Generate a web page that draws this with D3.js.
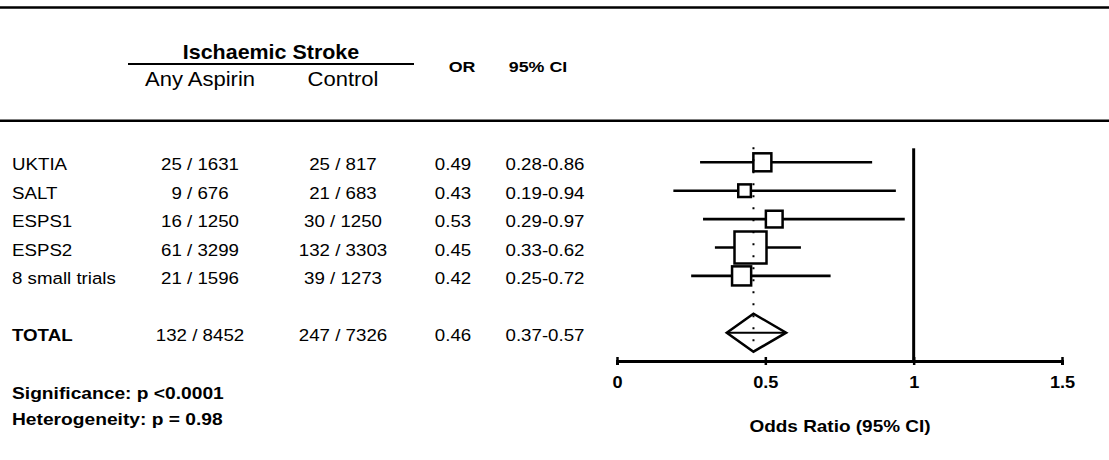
<!DOCTYPE html>
<html>
<head>
<meta charset="utf-8">
<script src="https://cdn.jsdelivr.net/npm/d3@7/dist/d3.min.js"></script>
<style>
  html, body { margin: 0; padding: 0; background: #fff; }
  svg { display: block; }
  text { font-family: "Liberation Sans", Arial, sans-serif; fill: #000; }
</style>
</head>
<body>
<svg id="chart" width="1109" height="460"></svg>
<script>
// Trial data: ischaemic stroke events / patients, odds ratios and 95% CIs
const studies = ["UKTIA", "SALT", "ESPS1", "ESPS2", "8 small trials"];
const aspirinEvents = [25, 9, 16, 61, 21];
const aspirinTotals = [1631, 676, 1250, 3299, 1596];
const controlEvents = [25, 21, 30, 132, 39];
const controlTotals = [817, 683, 1250, 3303, 1273];
const oddsRatios = [0.49, 0.43, 0.53, 0.45, 0.42];
const ciLow = [0.28, 0.19, 0.29, 0.33, 0.25];
const ciHigh = [0.86, 0.94, 0.97, 0.62, 0.72];

// Pooled result
const totalLabel = "TOTAL";
const totalAspirin = [132, 8452];
const totalControl = [247, 7326];
const totalOR = 0.46;
const totalCI = [0.37, 0.57];

// Axis ticks and footnotes
const tickValues = [0, 0.5, 1, 1.5];
const tickLabels = ["0", "0.5", "1", "1.5"];
const footnotes = ["Significance: p <0.0001", "Heterogeneity: p = 0.98"];

const fmt2 = d3.format(".2f");
const W = 1109, H = 460;
const SX = 1.1; // horizontal stretch of the lettering

const svg = d3.select("#chart");

function label(txt, x, y, size, opts = {}) {
  return svg.append("text")
    .attr("transform", `translate(${x},${y}) scale(${opts.sx || SX},1)`)
    .attr("text-anchor", opts.anchor || "middle")
    .style("font-size", size + "px")
    .style("font-weight", opts.bold ? "bold" : "normal")
    .text(txt);
}

// Scales
const x = d3.scaleLinear().domain([0, 1.5]).range([617, 1062]);
const rowY = d3.scaleLinear().domain([0, 6]).range([162.3, 332.7]);
const totalRow = 6;

// Inverse-variance weights set the square sizes
const weights = ciLow.map((lo, i) => {
  const se = (Math.log(ciHigh[i]) - Math.log(lo)) / (2 * 1.96);
  return 1 / (se * se);
});
const side = d3.scaleSqrt().domain([0, d3.max(weights)]).range([0, 32]);

// Horizontal rules
svg.append("line").attr("x1", 0).attr("x2", W).attr("y1", 7.5).attr("y2", 7.5)
  .attr("stroke", "#000").attr("stroke-width", 2.5);
svg.append("line").attr("x1", 0).attr("x2", W).attr("y1", 120.7).attr("y2", 120.7)
  .attr("stroke", "#000").attr("stroke-width", 2.5);

// Column headers
const colAspirin = 200, colControl = 343, colOR = 453, colCI = 545;
label("Ischaemic Stroke", 271, 58.5, 19.5, { bold: true });
svg.append("line").attr("x1", 128).attr("x2", 414).attr("y1", 64).attr("y2", 64)
  .attr("stroke", "#000").attr("stroke-width", 2.2);
label("Any Aspirin", colAspirin, 86, 20);
label("Control", colControl, 86, 20);
label("OR", 462, 72, 15.5, { bold: true, sx: 1.15 });
label("95% CI", 538, 72, 15.5, { bold: true, sx: 1.15 });

// Table rows
const textSize = 17;
studies.forEach((s, i) => {
  const by = rowY(i) + 8;
  label(s, 12, by, textSize, { anchor: "start" });
  label(`${aspirinEvents[i]} / ${aspirinTotals[i]}`, colAspirin, by, textSize);
  label(`${controlEvents[i]} / ${controlTotals[i]}`, colControl, by, textSize);
  label(fmt2(oddsRatios[i]), colOR, by, textSize);
  label(`${fmt2(ciLow[i])}-${fmt2(ciHigh[i])}`, colCI, by, textSize);
});
{
  const by = rowY(totalRow) + 8;
  label(totalLabel, 12, by, textSize, { anchor: "start", bold: true });
  label(`${totalAspirin[0]} / ${totalAspirin[1]}`, colAspirin, by, textSize);
  label(`${totalControl[0]} / ${totalControl[1]}`, colControl, by, textSize);
  label(fmt2(totalOR), colOR, by, textSize);
  label(`${fmt2(totalCI[0])}-${fmt2(totalCI[1])}`, colCI, by, textSize);
}

// Footnotes
footnotes.forEach((t, i) => label(t, 12, 399 + i * 26, 17, { anchor: "start", bold: true, sx: 1.13 }));

// Forest plot
const plot = svg.append("g");
const axisY = 361;
const topY = rowY(0) - 14;
const diamondHalf = 19;

// Line of no effect
plot.append("line").attr("x1", x(1)).attr("x2", x(1)).attr("y1", topY).attr("y2", axisY)
  .attr("stroke", "#000").attr("stroke-width", 3);

// Confidence intervals
plot.selectAll(".ci").data(studies).join("line").attr("class", "ci")
  .attr("x1", (d, i) => x(ciLow[i])).attr("x2", (d, i) => x(ciHigh[i]))
  .attr("y1", (d, i) => rowY(i)).attr("y2", (d, i) => rowY(i))
  .attr("stroke", "#000").attr("stroke-width", 2.6);

// Point estimates
plot.selectAll(".sq").data(studies).join("rect").attr("class", "sq")
  .attr("x", (d, i) => x(oddsRatios[i]) - side(weights[i]) / 2)
  .attr("y", (d, i) => rowY(i) - side(weights[i]) / 2)
  .attr("width", (d, i) => side(weights[i]))
  .attr("height", (d, i) => side(weights[i]))
  .attr("fill", "#fff").attr("stroke", "#000").attr("stroke-width", 2.5);

// Pooled diamond
const ty = rowY(totalRow);
plot.append("polygon")
  .attr("points", [
    [x(totalCI[0]), ty], [x(totalOR), ty - diamondHalf],
    [x(totalCI[1]), ty], [x(totalOR), ty + diamondHalf]
  ].map(p => p.join(",")).join(" "))
  .attr("fill", "#fff").attr("stroke", "#000").attr("stroke-width", 2.5)
  .attr("stroke-linejoin", "miter");
plot.append("line").attr("x1", x(totalCI[0])).attr("x2", x(totalCI[1]))
  .attr("y1", ty).attr("y2", ty).attr("stroke", "#000").attr("stroke-width", 2);

// Dotted line at the pooled estimate
plot.append("line").attr("x1", x(totalOR)).attr("x2", x(totalOR))
  .attr("y1", topY - 1).attr("y2", ty + diamondHalf)
  .attr("stroke", "#000").attr("stroke-width", 2).attr("stroke-dasharray", "2,10");

// X axis
const axis = d3.axisBottom(x).tickValues(tickValues)
  .tickFormat((d, i) => tickLabels[i]).tickSizeOuter(0).tickSize(4);
const ax = svg.append("g").attr("transform", `translate(0,${axisY})`).call(axis);
ax.select(".domain").attr("stroke", "#000").attr("stroke-width", 3);
ax.selectAll(".tick line").attr("y1", -4).attr("y2", 4).attr("stroke", "#000").attr("stroke-width", 2.5);
ax.selectAll(".tick text")
  .attr("y", null).attr("dy", null)
  .attr("transform", `translate(0,26.5) scale(${SX},1)`)
  .attr("fill", "#000")
  .style("font-family", '"Liberation Sans", Arial, sans-serif')
  .style("font-size", "16.5px").style("font-weight", "bold");

label("Odds Ratio (95% CI)", 840, 432, 16.5, { bold: true, sx: 1.15 });
</script>
</body>
</html>
